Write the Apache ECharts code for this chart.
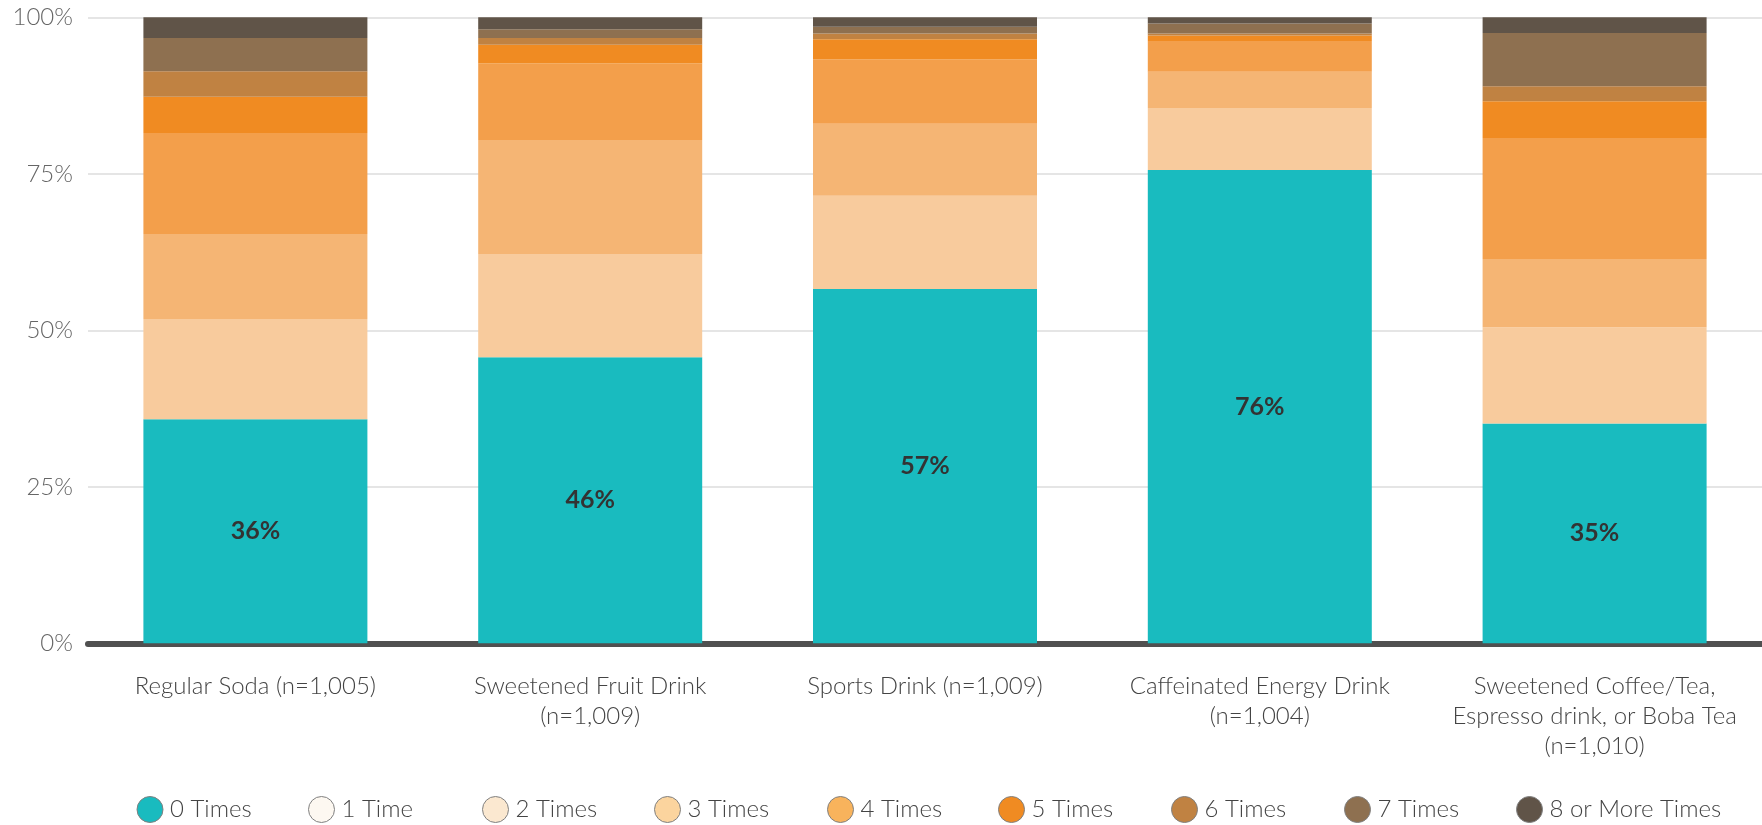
<!DOCTYPE html>
<html>
<head>
<meta charset="utf-8">
<script src="https://cdn.jsdelivr.net/npm/echarts@6/dist/echarts.min.js"></script>
<style>
html,body{margin:0;padding:0;background:#fff;}
#chart{width:1762px;height:825px;}
</style>
</head>
<body>
<div id="chart"></div>
<script>
const categories = [
  'Regular Soda (n=1,005)',
  'Sweetened Fruit Drink\n(n=1,009)',
  'Sports Drink (n=1,009)',
  'Caffeinated Energy Drink\n(n=1,004)',
  'Sweetened Coffee/Tea,\nEspresso drink, or Boba Tea\n(n=1,010)'
];
const seriesNames = ['0 Times','1 Time','2 Times','3 Times','4 Times','5 Times','6 Times','7 Times','8 or More Times'];
const times0 = [35.8, 45.7, 56.6, 75.6, 35.1];
const times1 = [0, 0, 0, 0, 0];
const times2 = [16.0, 16.5, 14.9, 9.9, 15.4];
const times3 = [13.6, 18.2, 11.5, 5.8, 10.9];
const times4 = [16.1, 12.2, 10.3, 4.9, 19.3];
const times5 = [5.8, 3.0, 3.2, 0.9, 5.9];
const times6 = [4.1, 1.1, 0.9, 0.3, 2.4];
const times7 = [5.3, 1.4, 1.1, 1.6, 8.5];
const times8 = [3.3, 1.9, 1.5, 1.0, 2.5];
const yTickLabels = ['0%','25%','50%','75%','100%'];

const allValues = [times0, times1, times2, times3, times4, times5, times6, times7, times8];
const barColors = ['#19bbbf','#fdf8f1','#f8cb9d','#f5b574','#f39f4b','#f08b22','#c08242','#8e7050','#605448'];
const legendColors = ['#19bbbf','#fdf8f1','#fbe8d0','#fbd49e','#f8b35c','#f08b22','#c08242','#8e7050','#605448'];
const legendCenters = [147.5, 319, 493, 665, 838, 1009, 1182, 1355, 1527];

const FONT = 'Lato, "Open Sans", sans-serif';

const series = seriesNames.map((name, i) => ({
  name: name,
  type: 'bar',
  stack: 'total',
  data: allValues[i],
  barWidth: 224,
  itemStyle: { color: barColors[i] },
  emphasis: { disabled: true },
  label: i === 0 ? {
    show: true,
    position: 'inside',
    formatter: p => Math.round(p.value) + '%',
    fontFamily: FONT,
    fontWeight: 'bold',
    fontSize: 25,
    color: '#333333'
  } : { show: false }
}));

const legends = seriesNames.map((name, i) => ({
  data: [{ name: name, itemStyle: { color: legendColors[i], borderColor: '#808080', borderWidth: 1 } }],
  left: legendCenters[i] - 11,
  top: 796,
  padding: 0,
  icon: 'circle',
  itemWidth: 30,
  itemHeight: 26,
  selectedMode: false,
  textStyle: { fontFamily: FONT, fontWeight: 300, fontSize: 24, color: '#444444' }
}));

const chart = echarts.init(document.getElementById('chart'), null, { renderer: 'canvas' });
chart.setOption({
  animation: false,
  backgroundColor: '#ffffff',
  grid: { left: 88, right: -6, top: 17.3, bottom: 181.7, containLabel: false },
  legend: legends,
  xAxis: {
    type: 'category',
    data: categories,
    offset: 3,
    axisLine: { show: true, lineStyle: { color: '#505050', width: 6 } },
    axisTick: { show: false },
    axisLabel: {
      margin: 25,
      interval: 0,
      fontFamily: FONT,
      fontWeight: 300,
      fontSize: 24,
      lineHeight: 30,
      color: '#444444',
      align: 'center'
    }
  },
  yAxis: {
    type: 'value',
    min: 0,
    max: 100,
    interval: 25,
    axisLine: { show: false },
    axisTick: { show: false },
    splitLine: { show: true, lineStyle: { color: '#dcdcdc', width: 1.5 } },
    axisLabel: {
      margin: 15,
      formatter: v => yTickLabels[Math.round(v / 25)],
      fontFamily: FONT,
      fontWeight: 300,
      fontSize: 24,
      color: '#666666'
    }
  },
  series: series
});
</script>
</body>
</html>
